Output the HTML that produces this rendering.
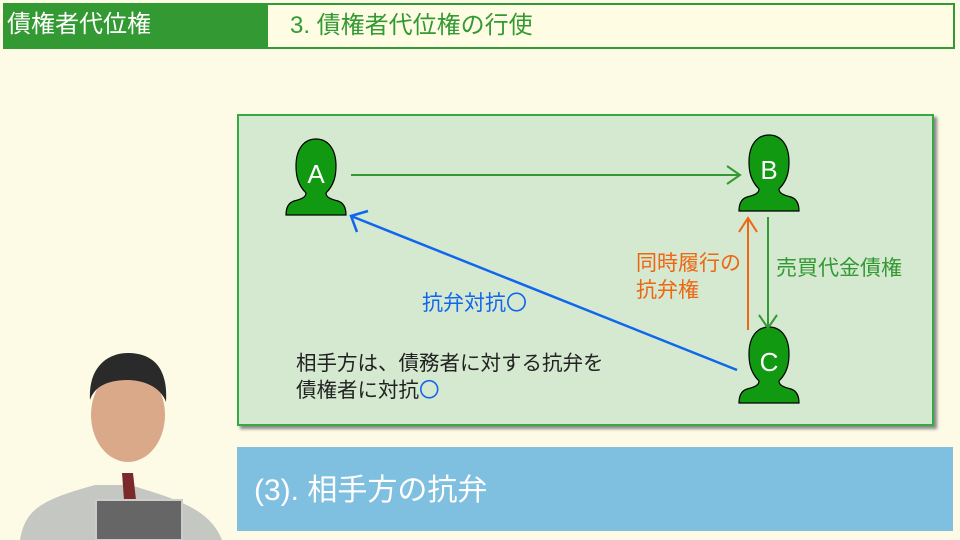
<!DOCTYPE html>
<html><head><meta charset="utf-8"><style>
body{margin:0;width:960px;height:540px;background:#fdfbe6;position:relative;overflow:hidden;font-family:"Liberation Sans","Noto Sans CJK JP",sans-serif}
.a{position:absolute;white-space:nowrap}
</style></head><body>
<div class="a" style="left:3px;top:3px;width:266px;height:46px;background:#339933"></div>
<div class="a" style="left:7px;top:9px;color:#fff;font-size:24px;line-height:32px">債権者代位権</div>
<div class="a" style="left:268px;top:3px;width:685px;height:42px;background:#fefde4;border:2px solid #339933;border-left:none"></div>
<div class="a" style="left:290px;top:10px;color:#339933;font-size:24px;line-height:32px">3. 債権者代位権の行使</div>

<div class="a" style="left:237px;top:114px;width:693px;height:308px;background:#d5e8d0;border:2px solid #33aa44;box-shadow:3px 3px 3px #888"></div>
<div class="a" style="left:237px;top:447px;width:716px;height:84px;background:#7fbfdf"></div>
<div class="a" style="left:254px;top:472px;color:#fff;font-size:30px;line-height:38px">(3). 相手方の抗弁</div>

<svg class="a" style="left:0;top:0" width="960" height="540">
<defs><g id="p"><path d="M-10,32 C-18,24 -20,15 -20,5 C-20,-12 -12,-22 0,-22 C12,-22 20,-12 20,5 C20,15 18,24 10,32 C10,36 14,38 22,40 C28,42 30,48 30,54 L-30,54 C-30,48 -28,42 -22,40 C-14,38 -10,36 -10,32 Z" fill="#119911" stroke="#000" stroke-width="1.2"/></g></defs>
<use href="#p" x="316" y="161"/>
<use href="#p" x="769" y="157"/>
<use href="#p" x="769" y="349"/>
<g fill="#fff" font-size="26" text-anchor="middle" font-family="Liberation Sans,sans-serif"><text x="316" y="183">A</text><text x="769" y="179">B</text><text x="769" y="371">C</text></g>
<g stroke="#339933" stroke-width="2" fill="none"><path d="M351,175 H740"/><path d="M727,166 L740,175 L727,184"/>
<path d="M768,217 V328"/><path d="M759,315 L768,328 L777,315"/></g>
<g stroke="#ee6611" stroke-width="2" fill="none"><path d="M748,330 V218"/><path d="M739,232 L748,218 L757,232"/></g>
<g stroke="#1166ee" stroke-width="2.5" fill="none"><path d="M737,370 L351,216"/><path d="M357,232 L351,216 L368,211"/></g>
</svg>
<div class="a" style="left:636px;top:250px;color:#ee6611;font-size:21px;line-height:27px">同時履行の<br>抗弁権</div>
<div class="a" style="left:776px;top:255px;color:#339933;font-size:21px;line-height:27px">売買代金債権</div>
<div class="a" style="left:422px;top:290px;color:#1166ee;font-size:21px;line-height:27px">抗弁対抗〇</div>
<div class="a" style="left:296px;top:350px;color:#222;font-size:20.5px;line-height:27px">相手方は、債務者に対する抗弁を<br>債権者に対抗<span style="color:#1166ee">〇</span></div>

<svg class="a" style="left:0;top:340px" width="240" height="200">
<path d="M20,200 C25,170 40,160 95,145 L130,145 C180,160 210,170 222,200 Z" fill="#c4c7c2"/>
<ellipse cx="128" cy="75" rx="37" ry="47" fill="#d9a98a"/>
<path d="M90,60 C88,25 110,12 130,13 C155,14 168,30 166,62 C160,45 140,40 128,40 C110,40 95,45 90,60Z" fill="#2a2a2a"/>
<path d="M122,133 L133,133 L136,160 L124,160 Z" fill="#7a2a2a"/>
<rect x="96" y="160" width="86" height="40" fill="#666" stroke="#ccc" stroke-width="2"/>
</svg>
</body></html>
